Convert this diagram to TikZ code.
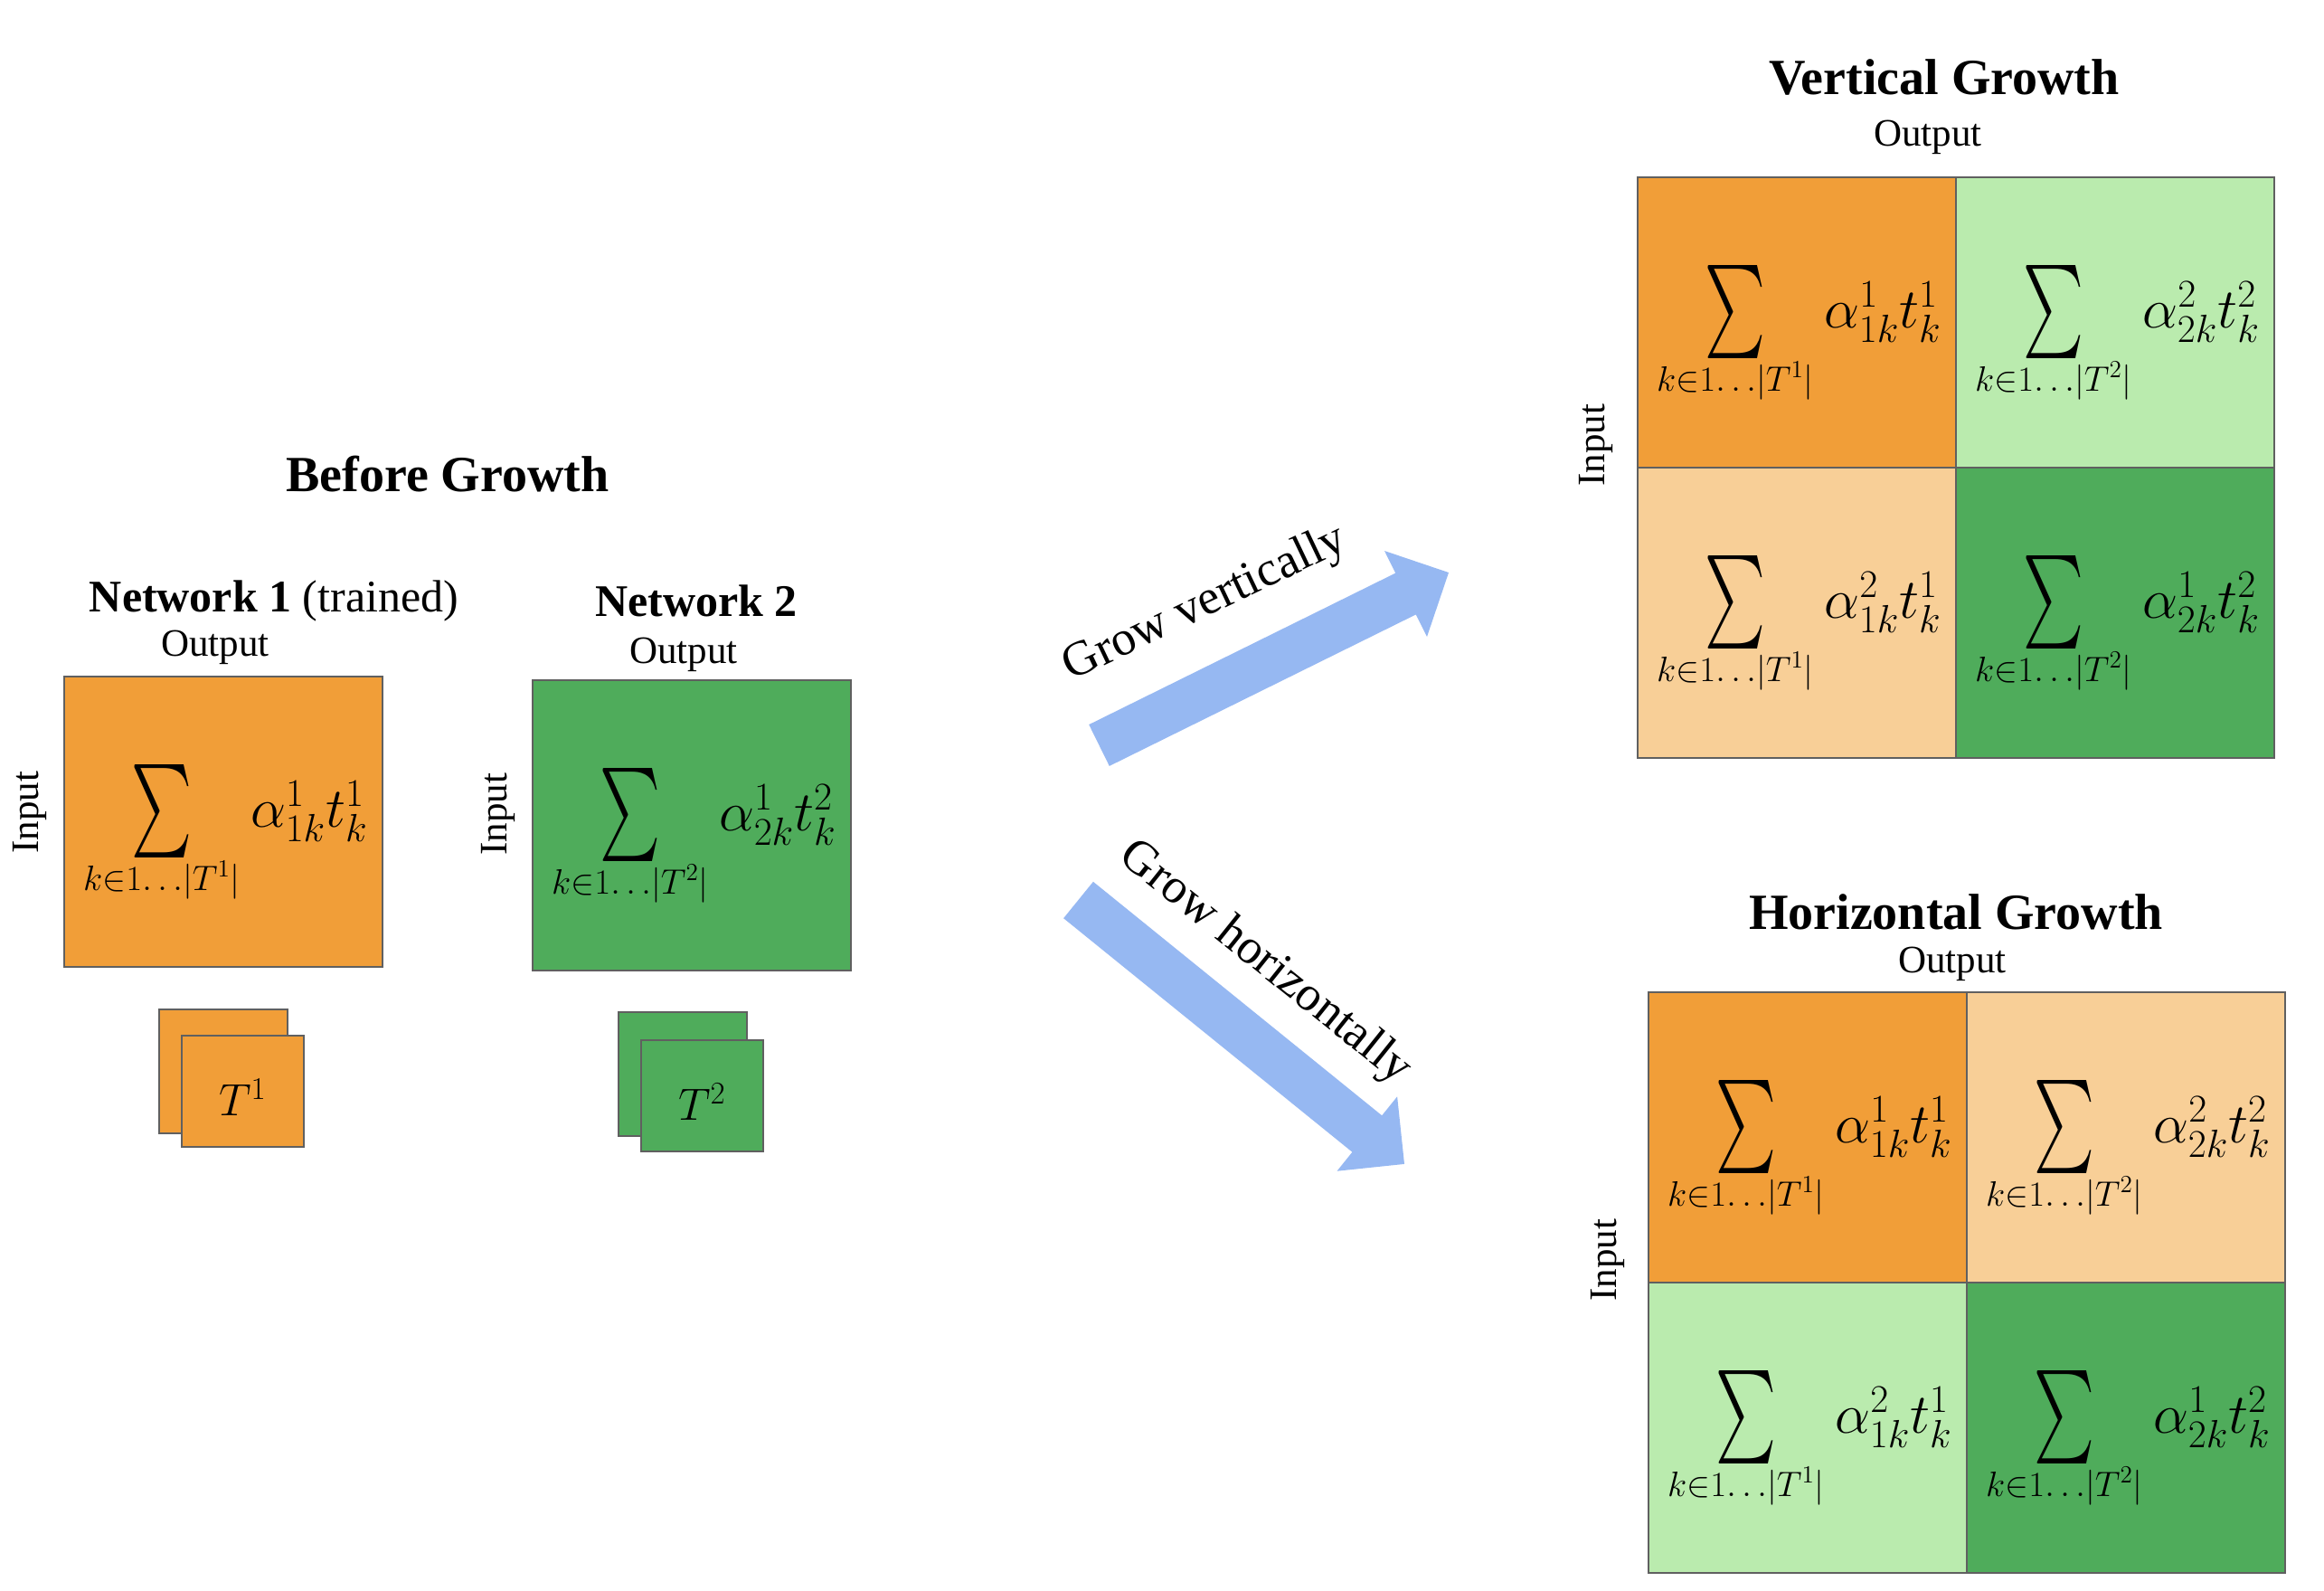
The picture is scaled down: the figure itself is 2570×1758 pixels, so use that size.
\RequirePackage{fix-cm}
\documentclass[tikz,border=0pt]{standalone}
\usepackage{amsmath}
\usepackage{graphicx}
\usepackage{fontspec}
\setmainfont{Liberation Serif}
\usetikzlibrary{calc}
\definecolor{orangeA}{HTML}{F19E38}
\definecolor{orangeL}{HTML}{F8CF97}
\definecolor{greenA}{HTML}{4FAC5B}
\definecolor{greenL}{HTML}{BAEBAE}
\definecolor{arrowblue}{HTML}{96B8F2}
\definecolor{bordergray}{HTML}{606060}
\newcommand{\cellcontents}[5]{%
  \node[sumsym] (#1-sum) at ($(#1.north west)+(109,150)$) {\resizebox*{33.5pt}{51.5pt}{$\sum$}};
  \node[sumsub] (#1-sub) at ($(#1.north west)+(109,226)$) {$k{\in}1{\ldots}|T^{#2}|$};
  \node[termtext] (#1-term) at ($(#1.north west)+(272,150)$) {$\alpha^{#3}_{#4k}t^{#5}_k$};
}
\begin{document}
\begin{tikzpicture}[x=0.5pt,y=-0.5pt,
  cellbox/.style={draw=bordergray, line width=1pt, rectangle, inner sep=0pt,
    minimum width=176pt, minimum height=160.5pt, anchor=north west},
  tback/.style={draw=bordergray, line width=1pt, rectangle, inner sep=0pt,
    minimum width=71pt, minimum height=68.5pt, anchor=north west},
  tfront/.style={draw=bordergray, line width=1pt, rectangle, inner sep=0pt,
    minimum width=67.5pt, minimum height=61.5pt, anchor=north west},
  bigtitle/.style={font=\fontsize{28}{32}\selectfont\bfseries, inner sep=0pt},
  nettitle/.style={font=\fontsize{25}{30}\selectfont, inner sep=0pt},
  axislabel/.style={font=\fontsize{21.5}{26}\selectfont, inner sep=0pt},
  sumsym/.style={inner sep=0pt},
  sumsub/.style={font=\fontsize{19.5}{23}\selectfont, inner sep=0pt},
  termtext/.style={font=\fontsize{31}{36}\selectfont, inner sep=0pt},
  ttext/.style={font=\fontsize{25}{30}\selectfont, inner sep=0pt},
  growarrow/.style={fill=arrowblue, draw=none},
  growlabel/.style={font=\fontsize{27}{32}\selectfont, inner sep=0pt}
]
\useasboundingbox (0,0) rectangle (2570,1758);
\fill[white] (0,0) rectangle (2570,1758);

% ---------- Before growth ----------
\node[bigtitle] (before) at (495,524) {Before Growth};
\node[nettitle] (net1title) at (303,664) {\textbf{Network 1} (trained)};
\node[nettitle] (net2title) at (770,664) {\textbf{Network 2}};

\node[cellbox, fill=orangeA] (n1) at (70,747) {};
\node[cellbox, fill=greenA] (n2) at (588,751) {};
\cellcontents{n1}{1}{1}{1}{1}
\cellcontents{n2}{2}{1}{2}{2}

\node[axislabel] (n1out) at (238,716) {Output};
\node[axislabel] (n2out) at (756,724) {Output};
\node[axislabel, rotate=90] (n1in) at (33,898) {Input};
\node[axislabel, rotate=90] (n2in) at (551,900) {Input};

\node[tback, fill=orangeA] (t1b) at (175,1115) {};
\node[tfront, fill=orangeA] (t1f) at (200,1144) {};
\node[ttext] (t1t) at ($(t1f.center)+(0,7)$) {$T^1$};
\node[tback, fill=greenA] (t2b) at (683,1118) {};
\node[tfront, fill=greenA] (t2f) at (708,1149) {};
\node[ttext] (t2t) at ($(t2f.center)+(0,7)$) {$T^2$};

% ---------- Arrows ----------
\fill[growarrow] (1226.8,846.9) -- (1565.8,679.4) -- (1578,704) -- (1602,633)
  -- (1531,609) -- (1543.2,633.6) -- (1204.2,801.1) -- cycle;
\node[growlabel, rotate=25.5] (gv) at (1333,668) {Grow vertically};

\fill[growarrow] (1208.9,974.8) -- (1528.2,1233.3) -- (1545.1,1212.3) -- (1553,1286.9)
  -- (1478.5,1294.7) -- (1495.4,1273.7) -- (1176.1,1015.2) -- cycle;
\node[growlabel, rotate=-38.7] (gh) at (1399,1065) {Grow horizontally};

% ---------- Vertical growth ----------
\node[bigtitle] (vtitle) at (2150,85) {Vertical Growth};
\node[axislabel] (vout) at (2132,152) {Output};
\node[axislabel, rotate=90] (vin) at (1765,492) {Input};
\node[cellbox, fill=orangeA] (v11) at (1810,195) {};
\node[cellbox, fill=greenL] (v12) at (2162,195) {};
\node[cellbox, fill=orangeL] (v21) at (1810,516) {};
\node[cellbox, fill=greenA] (v22) at (2162,516) {};
\cellcontents{v11}{1}{1}{1}{1}
\cellcontents{v12}{2}{2}{2}{2}
\cellcontents{v21}{1}{2}{1}{1}
\cellcontents{v22}{2}{1}{2}{2}

% ---------- Horizontal growth ----------
\node[bigtitle] (htitle) at (2163,1008) {Horizontal Growth};
\node[axislabel] (hout) at (2159,1066) {Output};
\node[axislabel, rotate=90] (hin) at (1778,1393) {Input};
\node[cellbox, fill=orangeA] (h11) at (1822,1096) {};
\node[cellbox, fill=orangeL] (h12) at (2174,1096) {};
\node[cellbox, fill=greenL] (h21) at (1822,1417) {};
\node[cellbox, fill=greenA] (h22) at (2174,1417) {};
\cellcontents{h11}{1}{1}{1}{1}
\cellcontents{h12}{2}{2}{2}{2}
\cellcontents{h21}{1}{2}{1}{1}
\cellcontents{h22}{2}{1}{2}{2}
\end{tikzpicture}
\end{document}
